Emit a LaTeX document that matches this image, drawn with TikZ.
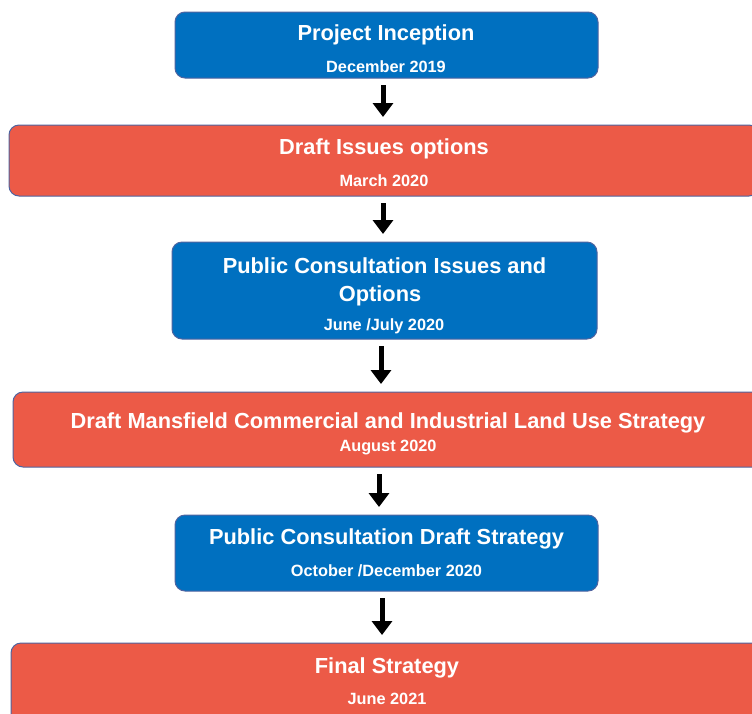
\documentclass[tikz,border=0pt]{standalone}
\usepackage{fontspec}
\setmainfont{Liberation Sans}
\usetikzlibrary{arrows.meta}
\definecolor{boxblue}{HTML}{0070C0}
\definecolor{boxred}{HTML}{EC5A47}
\definecolor{edgeblue}{HTML}{4F64A0}
\tikzset{
  stagebox/.style={rounded corners=10pt, draw=edgeblue, line width=1pt, inner sep=0pt, outer sep=0pt},
  bluebox/.style={stagebox, fill=boxblue},
  redbox/.style={stagebox, fill=boxred},
  titletext/.style={anchor=base, text=white, font=\bfseries\fontsize{21.8}{24}\selectfont, inner sep=0pt},
  datetext/.style={anchor=base, text=white, font=\bfseries\fontsize{16.3}{18}\selectfont, inner sep=0pt},
  flowarrow/.style={line width=5pt, -{Triangle[length=14pt,width=20pt]}, shorten <=7pt, shorten >=8pt}
}
\begin{document}
\begin{tikzpicture}[x=1pt,y=-1pt]
\useasboundingbox (0,0) rectangle (752,713);
\clip (0,0) rectangle (752,713);
\fill[white] (0,0) rectangle (752,713);

\node[bluebox, minimum width=423pt, minimum height=66pt] (b1) at (386.5,45) {};
\node[redbox, minimum width=750pt, minimum height=71pt] (b2) at (384,160.5) {};
\node[bluebox, minimum width=425pt, minimum height=97pt] (b3) at (384.5,290.5) {};
\node[redbox, minimum width=750pt, minimum height=75pt] (b4) at (388,429.5) {};
\node[bluebox, minimum width=423pt, minimum height=76pt] (b5) at (386.5,553) {};
\node[redbox, minimum width=752pt, minimum height=82pt] (b6) at (387,684) {};

\node[titletext] (t1) at (386,40) {Project Inception};
\node[datetext] (d1) at (386,72) {December 2019};

\node[titletext] (t2) at (384,154.5) {Draft Issues options};
\node[datetext] (d2) at (384,186) {March 2020};

\node[titletext] (t3a) at (384.5,273.5) {Public Consultation Issues and};
\node[titletext] (t3b) at (380,301.5) {Options};
\node[datetext] (d3) at (384,330) {June /July 2020};

\node[titletext] (t4) at (388,428.5) {Draft Mansfield Commercial and Industrial Land Use Strategy};
\node[datetext] (d4) at (388,451) {August 2020};

\node[titletext] (t5) at (386.5,544.5) {Public Consultation Draft Strategy};
\node[datetext] (d5) at (386.5,576) {October /December 2020};

\node[titletext] (t6) at (387,673.5) {Final Strategy};
\node[datetext] (d6) at (387,704) {June 2021};

\draw[flowarrow] ([xshift=-3.5pt]b1.south) -- ([xshift=-3.5pt]b1.south |- b2.north);
\draw[flowarrow] ([xshift=-1pt]b2.south) -- ([xshift=-1pt]b2.south |- b3.north);
\draw[flowarrow] ([xshift=-3.5pt]b3.south) -- ([xshift=-3.5pt]b3.south |- b4.north);
\draw[flowarrow] ([xshift=-9pt]b4.south) -- ([xshift=-9pt]b4.south |- b5.north);
\draw[flowarrow] ([xshift=-4.5pt]b5.south) -- ([xshift=-4.5pt]b5.south |- b6.north);
\end{tikzpicture}
\end{document}
